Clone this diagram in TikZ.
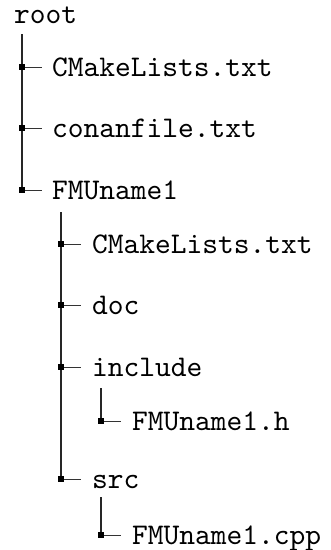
\documentclass[tikz,border=0pt]{standalone}
\usepackage{fontspec}
\newfontfamily\ttten{lmmono10-regular.otf}
\begin{document}
\begin{tikzpicture}[x=1pt,y=-1pt,
  lbl/.style={anchor=base west,inner sep=0pt,font=\fontsize{30}{36}\selectfont\ttten},
  vline/.style={line width=1.4pt,black!85},
  tick/.style={line width=0.9pt,black!80},
  sq/.style={fill=black}]
\useasboundingbox (0,0) rectangle (330,550);
% texts
\node[lbl] (root) at (14,23) {root};
\node[lbl] (a1) at (52,76) {CMakeLists.txt};
\node[lbl] (a2) at (52,137) {conanfile.txt};
\node[lbl] (a3) at (52,199) {FMUname1};
\node[lbl] (b1) at (92,253) {CMakeLists.txt};
\node[lbl] (b2) at (92,314) {doc};
\node[lbl] (b3) at (92,376) {include};
\node[lbl] (c1) at (132,430) {FMUname1.h};
\node[lbl] (b4) at (92,488) {src};
\node[lbl] (c2) at (132,544) {FMUname1.cpp};
% junctions
\coordinate (r0) at (22,34);
\coordinate (ja1) at (22,67);
\coordinate (ja2) at (22,128);
\coordinate (ja3) at (22,190);
\coordinate (s0) at (61,212);
\coordinate (jb1) at (61,244);
\coordinate (jb2) at (61,305);
\coordinate (jb3) at (61,367);
\coordinate (jb4) at (61,479);
\coordinate (i0) at (101,388);
\coordinate (jc1) at (101,421);
\coordinate (s1) at (101,497);
\coordinate (jc2) at (101,535);
% vertical lines
\draw[vline] (r0) -- (ja3);
\draw[vline] (s0) -- (jb4);
\draw[vline] (i0) -- (jc1);
\draw[vline] (s1) -- (jc2);
% ticks and squares
\foreach \j in {ja1,ja2,ja3,jb1,jb2,jb3,jb4,jc1,jc2}{
  \draw[tick] (\j) -- ++(20,0);
  \fill[sq] (\j) ++(-3,-3) rectangle ++(6,6);
}
\end{tikzpicture}
\end{document}
